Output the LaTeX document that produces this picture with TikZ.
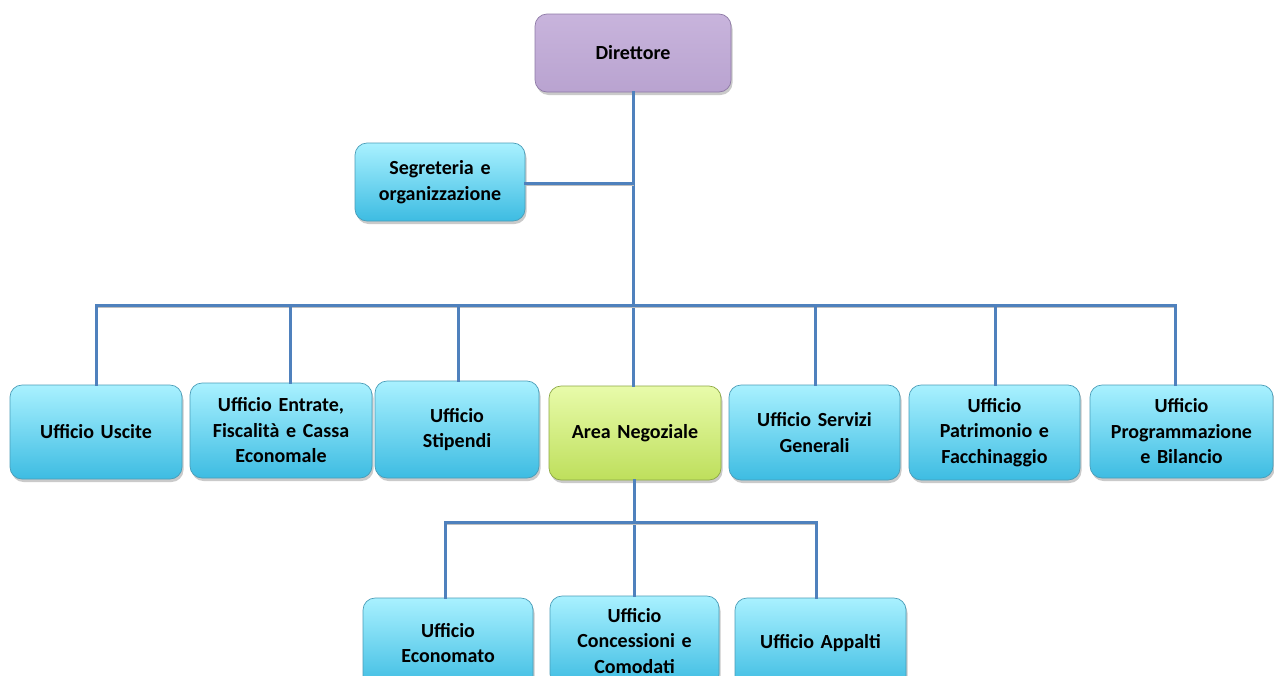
\documentclass[tikz,border=0pt]{standalone}
\usepackage{fontspec}
\setmainfont{Carlito}
\usetikzlibrary{shadows}
\definecolor{linec}{HTML}{4F81BD}
\definecolor{bluetop}{HTML}{A9F1FF}
\definecolor{bluebot}{HTML}{3DBCE2}
\definecolor{blueedge}{HTML}{4A9DB8}
\definecolor{purtop}{HTML}{C8B4DC}
\definecolor{purbot}{HTML}{B9A3D0}
\definecolor{puredge}{HTML}{8E7AA6}
\definecolor{grntop}{HTML}{E8FBAA}
\definecolor{grnbot}{HTML}{BEDF5C}
\definecolor{grnedge}{HTML}{8DA845}
\begin{document}
\begin{tikzpicture}[x=1pt,y=-1pt,
  box/.style={rounded corners=12pt, align=center, inner sep=2pt, line width=0.7pt,
    font=\fontsize{20}{25.5}\selectfont\bfseries,
    drop shadow={shadow xshift=1.5pt, shadow yshift=-3pt, opacity=0.35, fill=black!60}},
  bluebox/.style={box, draw=blueedge, top color=bluetop, bottom color=bluebot},
  purplebox/.style={box, draw=puredge, top color=purtop, bottom color=purbot},
  greenbox/.style={box, draw=grnedge, top color=grntop, bottom color=grnbot},
  conn/.style={draw=linec, line width=3pt, line cap=rect,
    preaction={draw=black!25, line width=3.6pt, transform canvas={xshift=0.6pt,yshift=-0.8pt}}}]
\useasboundingbox (0,0) rectangle (1274,675);

\node[purplebox, minimum width=196pt, minimum height=78pt] (dir) at (633,53) {Direttore};
\node[bluebox, minimum width=170pt, minimum height=78pt, text width=165pt] (seg) at (440,182) {Segreteria e\\organizzazione};

\node[bluebox, minimum width=172pt, minimum height=94pt, text width=168pt] (usc) at (96,432) {Ufficio Uscite};
\node[bluebox, minimum width=182pt, minimum height=95pt, text width=178pt] (ent) at (281,430.5) {Ufficio Entrate,\\Fiscalità e Cassa\\Economale};
\node[bluebox, minimum width=164pt, minimum height=97pt, text width=160pt] (sti) at (457,429.5) {Ufficio\\Stipendi};
\node[greenbox, minimum width=172pt, minimum height=94pt, text width=168pt] (area) at (635,433) {Area Negoziale};
\node[bluebox, minimum width=171pt, minimum height=95pt, text width=167pt] (ser) at (814.5,432.5) {Ufficio Servizi\\Generali};
\node[bluebox, minimum width=171pt, minimum height=95pt, text width=167pt] (pat) at (994.5,432.5) {Ufficio\\Patrimonio e\\Facchinaggio};
\node[bluebox, minimum width=183pt, minimum height=93pt, text width=179pt] (pro) at (1181.5,431.5) {Ufficio\\Programmazione\\e Bilancio};

\node[bluebox, minimum width=170pt, minimum height=90pt, text width=166pt] (eco) at (448,643) {Ufficio\\Economato};
\node[bluebox, minimum width=169pt, minimum height=90pt, text width=165pt] (con) at (634.5,641) {Ufficio\\Concessioni e\\Comodati};
\node[bluebox, minimum width=171pt, minimum height=90pt, text width=167pt] (app) at (820.5,643) {Ufficio Appalti};

% connector coordinates
\coordinate (trunk) at (633,305);
\coordinate (segj) at (633,183);
\coordinate (bl) at (96,305);
\coordinate (b2) at (290,305);
\coordinate (b3) at (458,305);
\coordinate (b5) at (815,305);
\coordinate (b6) at (995,305);
\coordinate (br) at (1175,305);
\coordinate (lj) at (634,522);
\coordinate (l1) at (445,522);
\coordinate (l3) at (816,522);

\path[conn] (dir.south -| trunk) -- (area.north -| trunk);
\path[conn] (seg.east |- segj) -- (segj);
\path[conn] (usc.north -| bl) -- (bl) -- (br) -- (pro.north -| br);
\path[conn] (b2) -- (ent.north -| b2);
\path[conn] (b3) -- (sti.north -| b3);
\path[conn] (b5) -- (ser.north -| b5);
\path[conn] (b6) -- (pat.north -| b6);
\path[conn] (area.south -| lj) -- (con.north -| lj);
\path[conn] (eco.north -| l1) -- (l1) -- (l3) -- (app.north -| l3);
\end{tikzpicture}
\end{document}
